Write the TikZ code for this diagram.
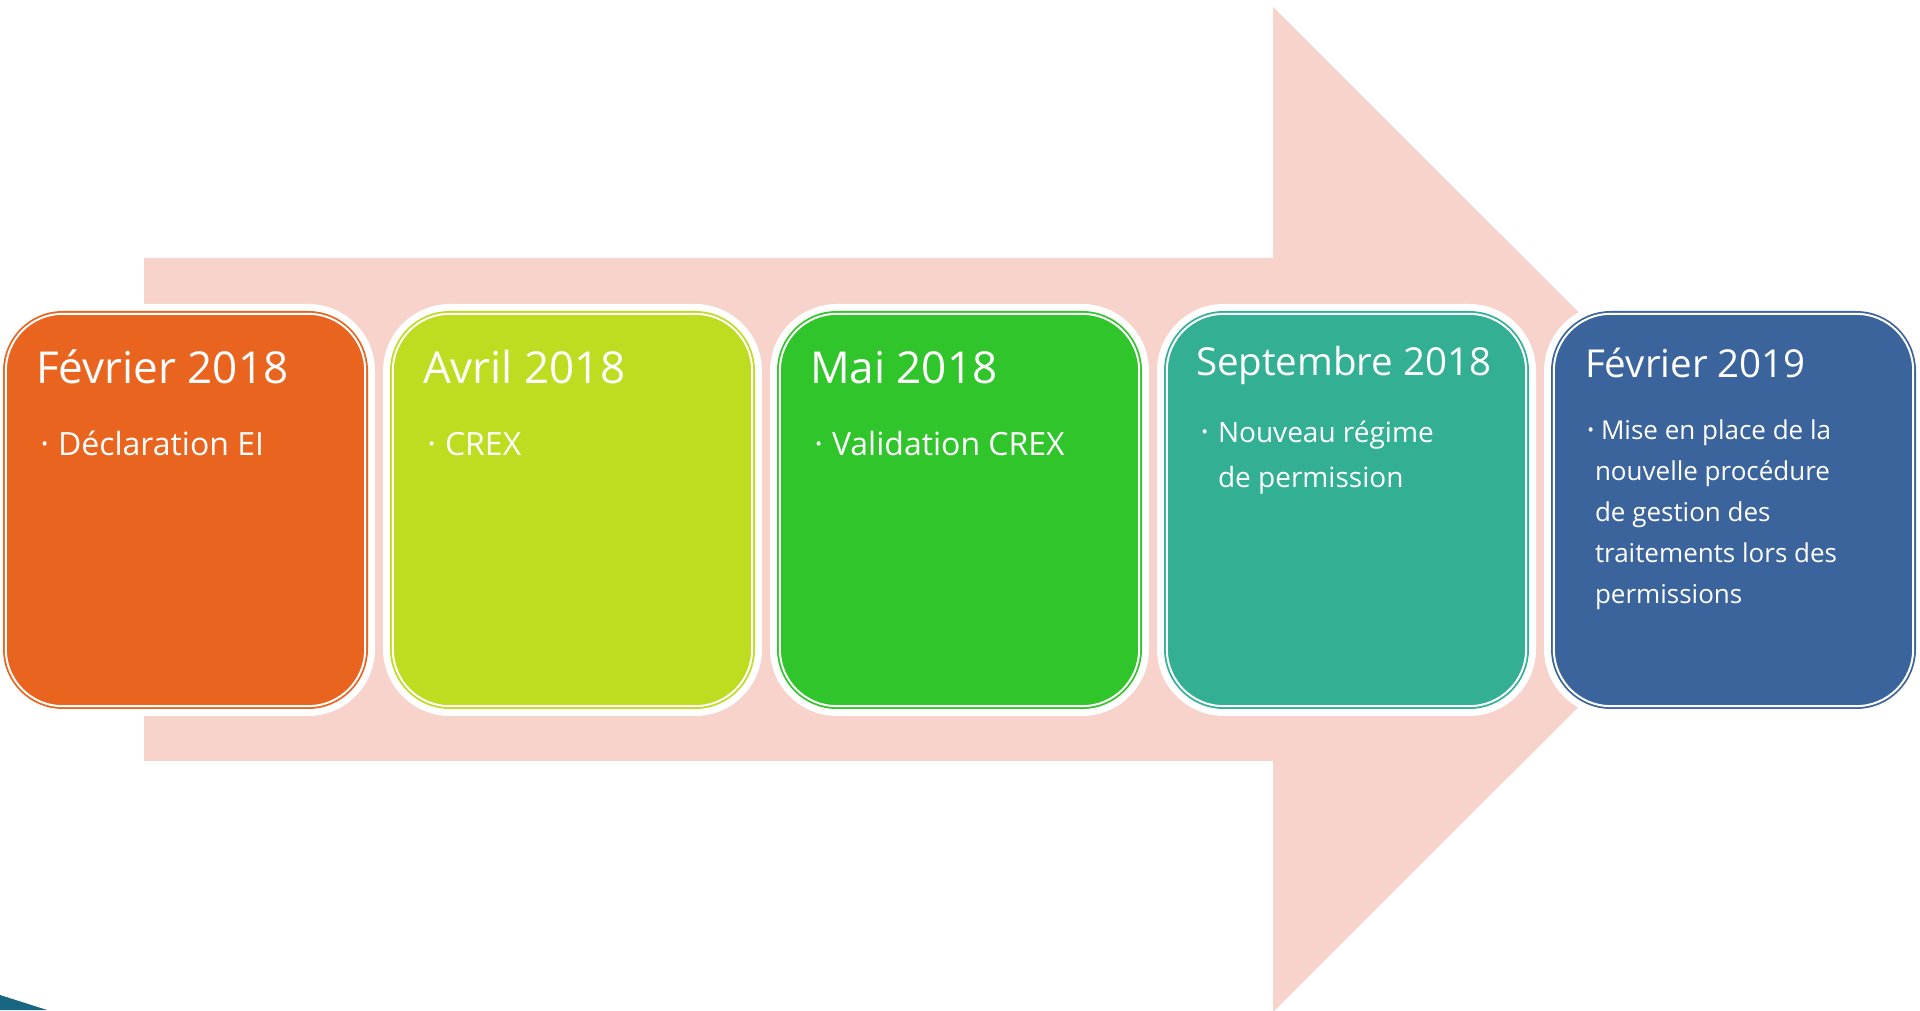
\documentclass[tikz,border=0pt]{standalone}
\usepackage{fontspec}
\setmainfont{Open Sans}
\definecolor{arrowpink}{RGB}{247,211,203}
\definecolor{cornerteal}{RGB}{24,102,130}
\definecolor{feborange}{RGB}{233,100,30}
\definecolor{aprlime}{RGB}{190,220,32}
\definecolor{maygreen}{RGB}{48,197,42}
\definecolor{septeal}{RGB}{51,176,147}
\definecolor{febblue}{RGB}{59,100,156}
\tikzset{
  box/.style={rectangle, rounded corners=57pt, minimum width=359.4pt, minimum height=392.4pt,
    inner sep=0pt, outer sep=0pt, line width=1.8pt, double=white, double distance=2pt},
  datetitle/.style={anchor=base west, inner sep=0pt, text=white, font=\fontsize{44}{44}\selectfont},
  itemtext/.style={anchor=base west, inner sep=0pt, text=white, align=left, font=\fontsize{32}{40}\selectfont},
  itemdot/.style={inner sep=0pt, text=white, font=\fontsize{18}{18}\selectfont}
}
\begin{document}
\begin{tikzpicture}[x=1pt,y=1pt]
\useasboundingbox (0,0) rectangle (1920,1010);
\fill[arrowpink] (144,249) -- (144,752) -- (1273,752) -- (1273,1003) -- (1776,500.5) -- (1273,-2) -- (1273,249) -- cycle;
\fill[cornerteal] (0,15) -- (47,0) -- (0,0) -- cycle;
\pgfmathsetmacro\pitch{387}
\foreach \n/\c/\name in {0/feborange/feb18, 1/aprlime/apr18, 2/maygreen/may18, 3/septeal/sep18, 4/febblue/feb19} {
  \fill[white, rounded corners=67pt] (\pitch*\n-4,294) rectangle (\pitch*\n+375,706);
  \node[box, fill=\c, draw=\c] (\name) at (\pitch*\n+185.5,500) {};
}
\node[datetitle] (feb18-title) at ([shift={(30,-70)}]feb18.north west) {Février 2018};
\node[itemdot] (feb18-dot) at ([shift={(39,-132)}]feb18.north west) {•};
\node[itemtext] (feb18-item) at ([shift={(52,-142)}]feb18.north west) {Déclaration EI};
\node[datetitle] (apr18-title) at ([shift={(30,-70)}]apr18.north west) {Avril 2018};
\node[itemdot] (apr18-dot) at ([shift={(39,-132)}]apr18.north west) {•};
\node[itemtext] (apr18-item) at ([shift={(52,-142)}]apr18.north west) {CREX};
\node[datetitle] (may18-title) at ([shift={(30,-70)}]may18.north west) {Mai 2018};
\node[itemdot] (may18-dot) at ([shift={(39,-132)}]may18.north west) {•};
\node[itemtext] (may18-item) at ([shift={(52,-142)}]may18.north west) {Validation CREX};
\node[datetitle, font=\fontsize{38.5}{38.5}\selectfont] (sep18-title) at ([shift={(29,-62)}]sep18.north west) {Septembre 2018};
\node[itemdot] (sep18-dot) at ([shift={(38,-120)}]sep18.north west) {•};
\node[itemtext, font=\fontsize{28}{45}\selectfont] (sep18-item) at ([shift={(51,-174)}]sep18.north west) {Nouveau régime\\de permission};
\node[datetitle, font=\fontsize{38.5}{38.5}\selectfont] (feb19-title) at ([shift={(31,-64)}]feb19.north west) {Février 2019};
\node[itemdot] (feb19-dot) at ([shift={(37,-118)}]feb19.north west) {•};
\node[itemtext, font=\fontsize{26}{41}\selectfont] (feb19-item) at ([shift={(41,-290)}]feb19.north west) {\hspace*{6pt}Mise en place de la\\nouvelle procédure\\de gestion des\\traitements lors des\\permissions};
\end{tikzpicture}
\end{document}
